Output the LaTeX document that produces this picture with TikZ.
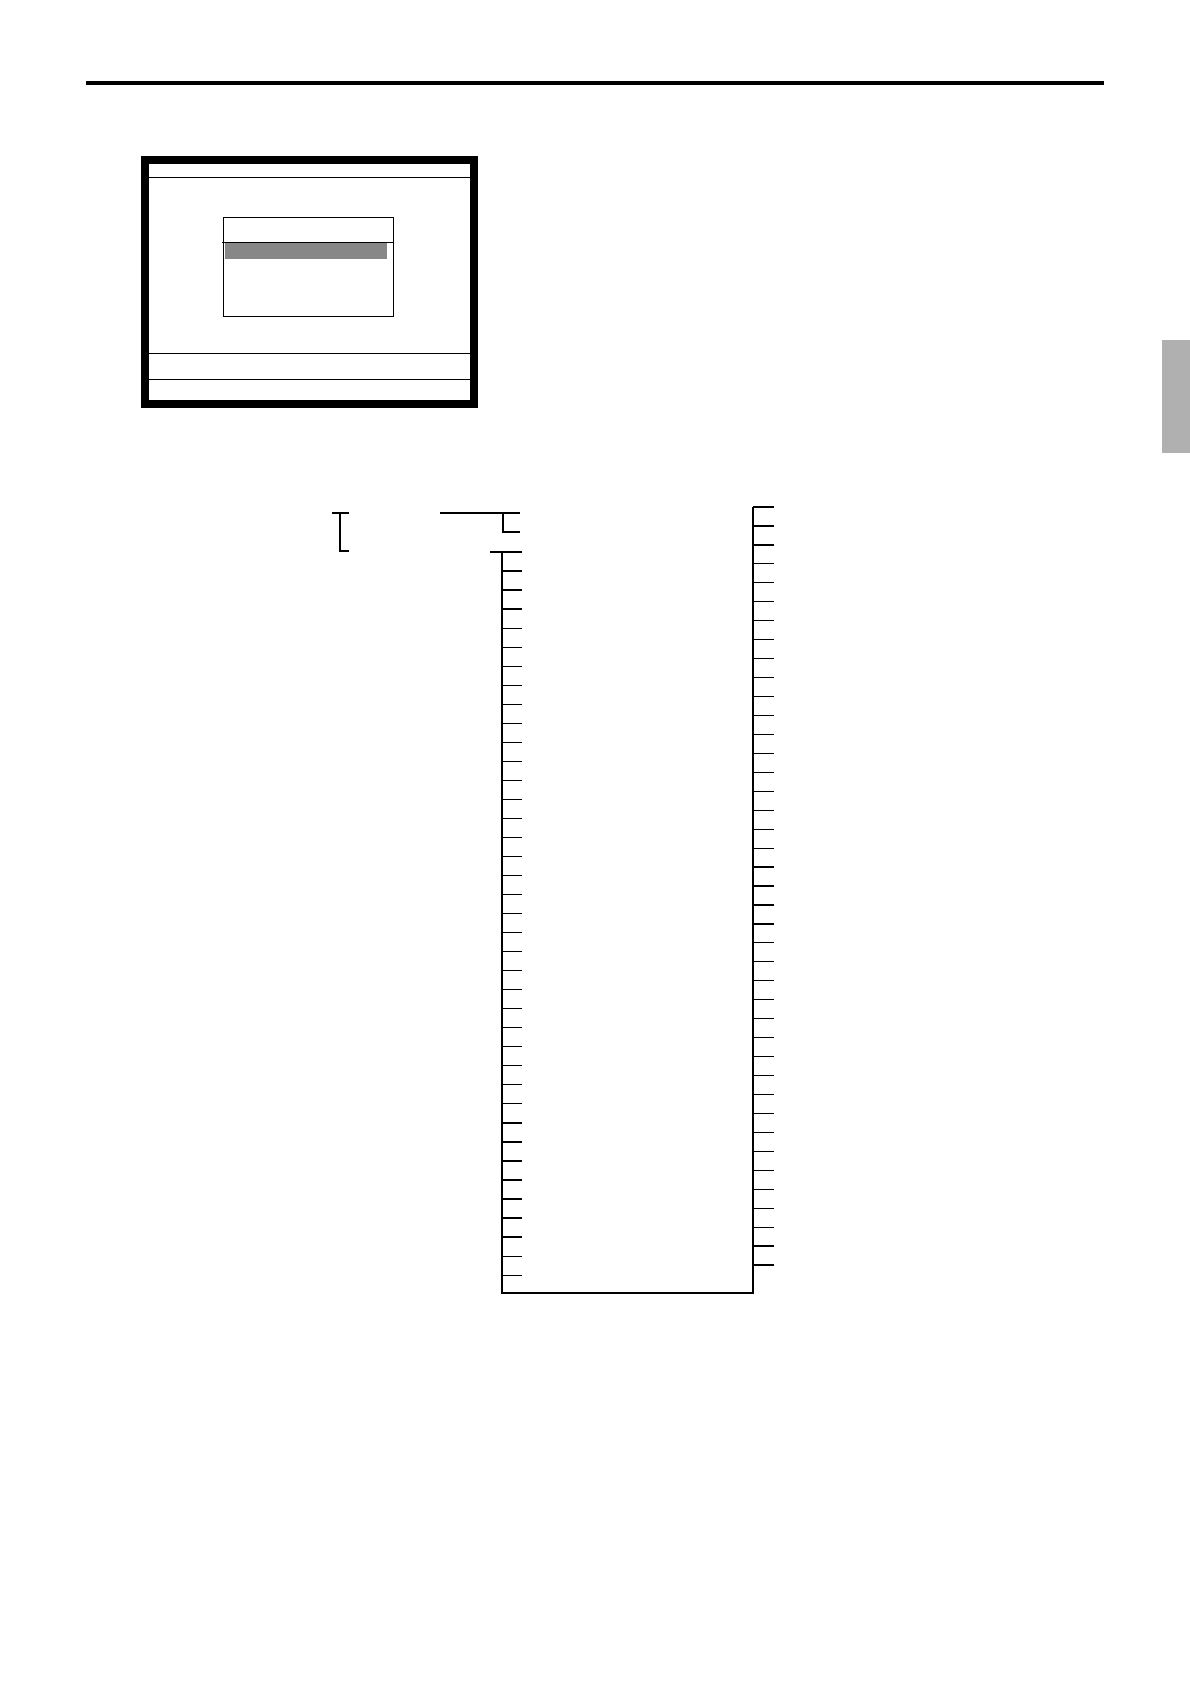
\documentclass[tikz,border=0pt]{standalone}
\usepackage{tikz}
\usetikzlibrary{positioning}
\tikzset{
    rule/.style = {line width=4pt,black},
    frame/.style = {fill=black},
    pane/.style = {fill=white},
    sep/.style = {line width=1pt,black},
    dialog/.style = {draw=black,line width=1pt},
    pick/.style = {fill=black!47},
    tab/.style = {fill=black!31},
    branch/.style = {line width=1.2pt,black},
    tick/.style = {line width=1.2pt,black}
}

\begin{document}
\begin{tikzpicture}[x=1pt,y=-1pt]
\useasboundingbox (0,0) rectangle (1190,1684);
% header rule and side tab
\draw[rule] (86,83) -- (1104,83);
\fill[tab] (1162,340) rectangle (1190,453);
%
% screen
\fill[frame] (141,156) rectangle (478,408);
\fill[pane] (149,164) rectangle (470,400);
\draw[sep] (149,177) -- (470,177);
\draw[sep] (149,353) -- (470,353);
\draw[sep] (149,379) -- (470,379);
\fill[pick] (225,242) rectangle (387,259);
\draw[dialog] (223,217) rectangle (393,316);
\draw[sep] (222,242) -- (393,242);
%
% tree
\coordinate (bt) at (340,513);
\coordinate (bb) at (340,551);
\draw[branch] ([xshift=-8]bt) -- ([xshift=9]bt) (bt) -- (bb) -- ([xshift=9]bb);
\coordinate (top) at (440,513);
\coordinate (fork) at (503,513);
\coordinate (forkend) at (520,532);
\draw[branch] (top) -- ([xshift=17]fork) (fork) |- (forkend);
\coordinate (lt) at (502,552);
\coordinate (lb) at (502,1293);
\coordinate (rb) at (753,1293);
\coordinate (rt) at (753,507);
\draw[branch] ([xshift=-12]lt) -- (lt) -- (lb) -- (rb) -- (rt);
\foreach \i in {0,...,38}
    \draw[tick] ([yshift=-19.03*\i]lt) -- ++(20,0);
\foreach \i in {0,...,40}
    \draw[tick] ([yshift=-18.95*\i]rt) -- ++(21,0);
\end{tikzpicture}
\end{document}
